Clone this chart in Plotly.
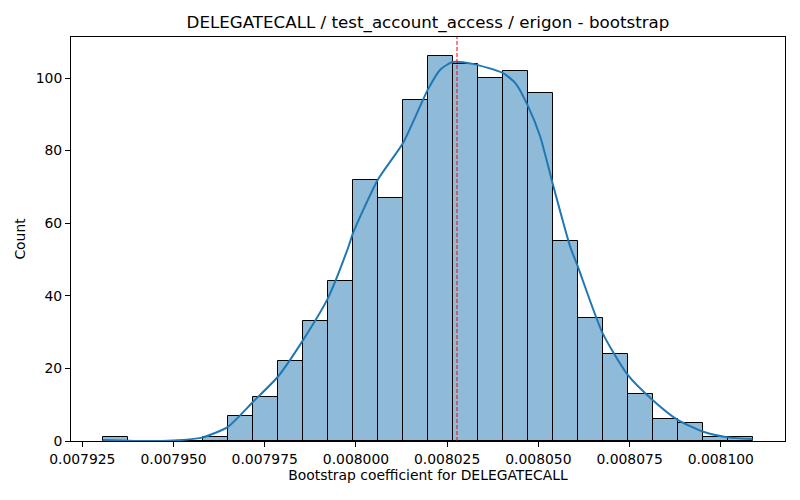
import numpy as np
import plotly.graph_objects as go

# histogram of bootstrap coefficients (26 equal bins)
bin_start = 0.0079307
bin_width = 0.000006846
counts = [1, 0, 0, 0, 1, 7, 12, 22, 33, 44, 72, 67, 94,
          106, 104, 100, 102, 96, 55, 34, 24, 13, 6, 5, 1, 1]

# kde curve (in count units)
kde_x = [0.0079307, 0.0079375, 0.0079444, 0.0079512, 0.0079581, 0.0079649,
         0.0079718, 0.0079786, 0.0079855, 0.0079923, 0.0079978, 0.0079992,
         0.0080060, 0.0080129, 0.0080197, 0.0080231, 0.0080265, 0.0080320,
         0.0080402, 0.0080437, 0.0080471, 0.0080505, 0.0080539, 0.0080587,
         0.0080608, 0.0080676, 0.0080745, 0.0080813, 0.0080882, 0.0080950,
         0.0081019, 0.0081087]
kde_y = [0.3, 0.1, 0.0, 0.2, 1.0, 3.9, 10.8, 17.7, 27.8, 39.3, 53.1, 57.3,
         72.0, 82.1, 96.8, 102.3, 104.4, 103.9, 101.4, 98.6, 92.4, 83.9,
         71.0, 53.6, 48.1, 29.7, 18.2, 11.3, 5.8, 2.6, 1.0, 0.55]

point_estimate = 0.0080277

x_ticks = [0.007925, 0.007950, 0.007975, 0.008000, 0.008025, 0.008050, 0.008075, 0.008100]
y_ticks = [0, 20, 40, 60, 80, 100]

centers = bin_start + bin_width * (np.arange(len(counts)) + 0.5)

fig = go.Figure()

fig.add_trace(go.Bar(
    x=centers,
    y=counts,
    width=bin_width,
    marker=dict(color="rgba(31,119,180,0.5)",
                line=dict(color="black", width=1)),
    showlegend=False,
))

fig.add_trace(go.Scatter(
    x=kde_x,
    y=kde_y,
    mode="lines",
    line=dict(color="#1f77b4", width=2, shape="spline", smoothing=0.6),
    showlegend=False,
))

# vertical dashed line at the point estimate
fig.add_shape(type="line", x0=point_estimate, x1=point_estimate,
              y0=0, y1=1, xref="x", yref="paper",
              line=dict(color="red", width=1, dash="4px,2px"))

axis_style = dict(
    showline=True, linecolor="black", linewidth=1, mirror=True,
    ticks="outside", ticklen=5, tickcolor="black", tickwidth=1,
    showgrid=False, zeroline=False,
    tickfont=dict(size=13.9, color="black"),
)

# the page body has an 8px margin, so the figure is a bit smaller than the window
fig.update_layout(
    width=792, height=492,
    margin=dict(l=63, r=15, t=29, b=59),
    paper_bgcolor="white", plot_bgcolor="white",
    font=dict(family="DejaVu Sans", color="black"),
    bargap=0,
    title=dict(text="DELEGATECALL / test_account_access / erigon - bootstrap",
               x=0.5, xanchor="center", xref="paper",
               y=1 - 14 / 492, yanchor="middle", yref="container",
               font=dict(size=16.7)),
    xaxis=dict(axis_style, range=[0.0079219, 0.0081176],
               tickvals=x_ticks, ticktext=[f"{v:.6f}" for v in x_ticks],
               title=dict(text="Bootstrap coefficient for DELEGATECALL",
                          font=dict(size=13.9), standoff=3)),
    yaxis=dict(axis_style, range=[0, 111.3], tickvals=y_ticks,
               title=dict(text="Count", font=dict(size=13.9), standoff=6)),
)

fig.write_html("out.html")
